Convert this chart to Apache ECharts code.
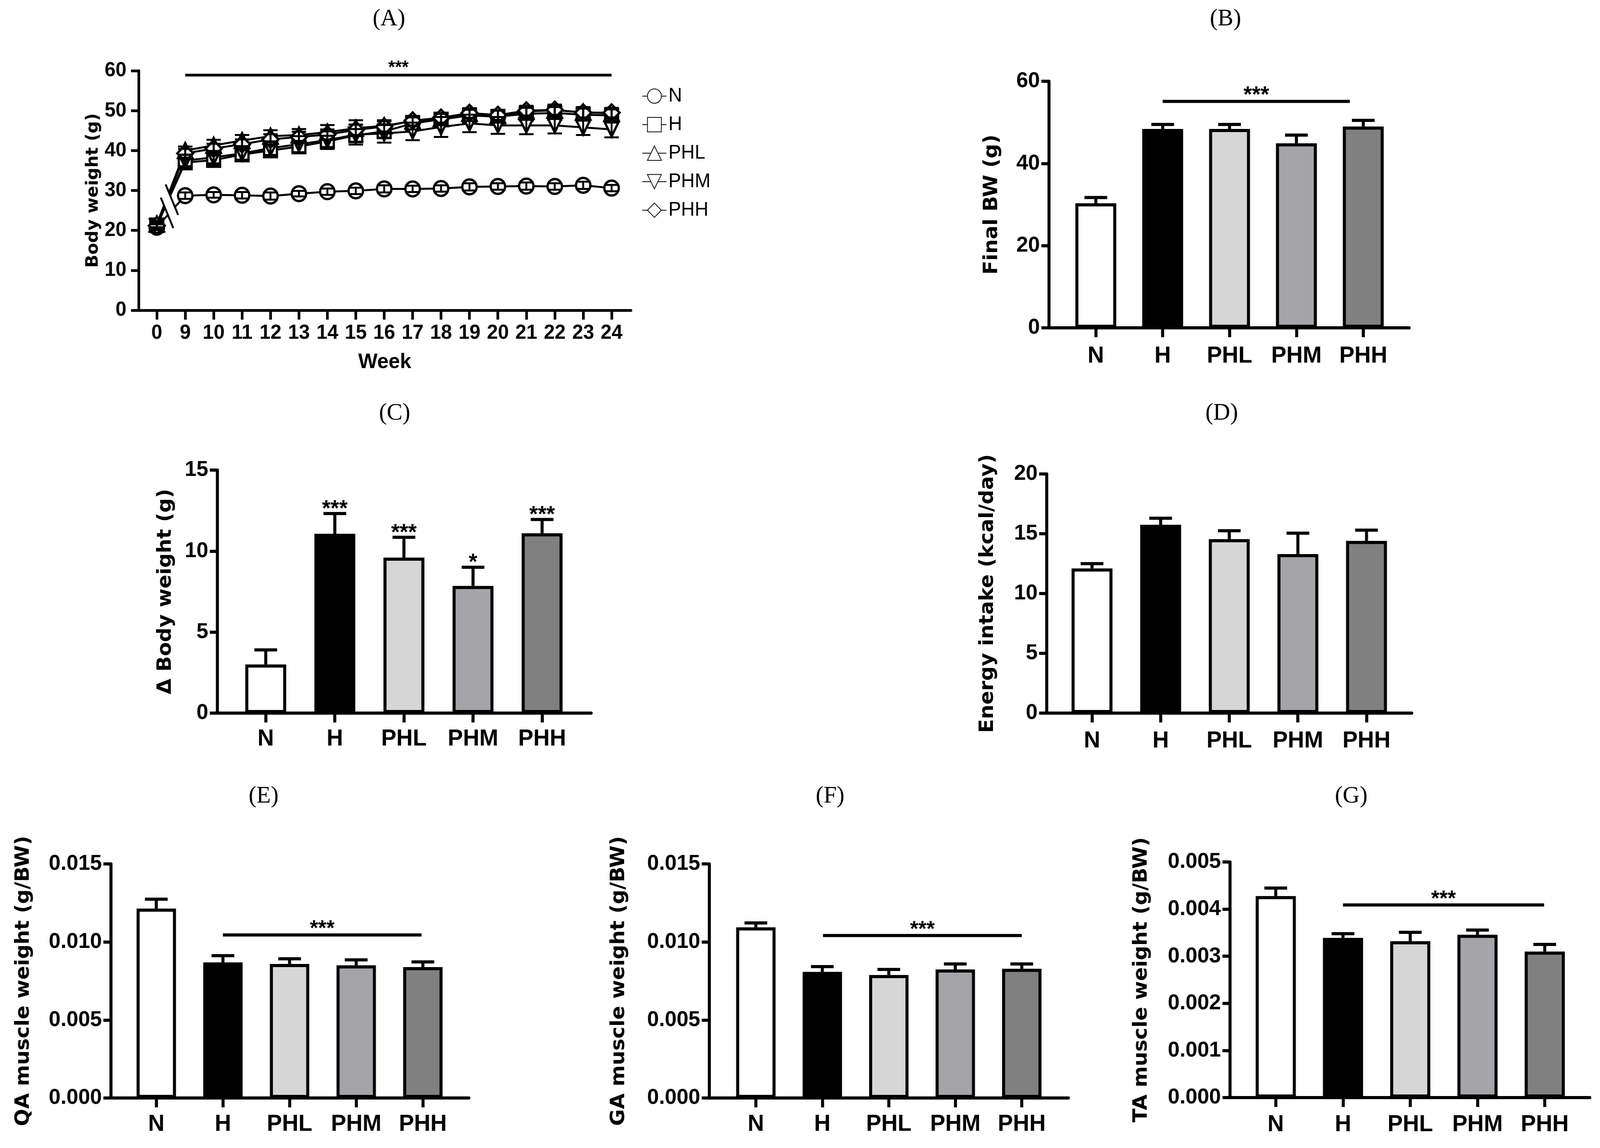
<!DOCTYPE html>
<html><head><meta charset="utf-8">
<script src="https://cdn.jsdelivr.net/npm/echarts@6/dist/echarts.min.js"></script>
<style>html,body{margin:0;padding:0;background:#fff;overflow:hidden}#c{width:4225px;height:2938px;transform-origin:0 0}</style>
</head><body><div id="c"></div><script>
// ---------- data ----------
const weeks = ['0','9','10','11','12','13','14','15','16','17','18','19','20','21','22','23','24'];
const groups = ['N','H','PHL','PHM','PHH'];

const bwN   = [20.8, 28.7, 28.9, 28.8, 28.6, 29.2, 29.7, 29.9, 30.4, 30.4, 30.5, 30.9, 31.0, 31.1, 31.0, 31.3, 30.6];
const bwH   = [21.3, 37.0, 37.6, 39.0, 40.0, 41.0, 42.3, 43.8, 44.8, 46.8, 47.8, 48.8, 48.5, 49.2, 49.4, 49.0, 48.8];
const bwPHL = [21.6, 40.0, 41.3, 42.5, 43.6, 43.9, 44.6, 45.6, 46.2, 47.4, 48.0, 49.3, 48.8, 49.8, 50.1, 49.6, 49.3];
const bwPHM = [21.0, 37.5, 38.3, 39.3, 40.6, 41.6, 42.6, 44.0, 44.3, 44.8, 45.9, 46.8, 46.3, 46.3, 46.3, 45.8, 45.3];
const bwPHH = [21.2, 39.3, 40.5, 41.6, 42.8, 43.4, 44.0, 45.2, 46.0, 47.5, 48.2, 49.4, 48.9, 50.0, 50.2, 49.5, 49.5];

const errN   = [0.7, 0.8, 0.7, 0.8, 0.9, 0.7, 0.8, 0.8, 0.9, 0.8, 0.8, 0.9, 0.8, 0.9, 0.8, 0.9, 0.8];
const errH   = [0.8, 1.2, 1.2, 1.3, 1.3, 1.4, 1.4, 1.6, 1.6, 1.5, 1.4, 1.4, 1.5, 1.5, 1.5, 1.5, 1.5];
const errPHL = [0.8, 1.0, 1.4, 1.4, 1.5, 1.5, 1.8, 2.0, 1.4, 1.3, 1.3, 1.3, 1.3, 1.4, 1.4, 1.3, 1.3];
const errPHM = [0.7, 1.4, 1.5, 1.6, 1.7, 2.0, 2.2, 2.5, 2.3, 2.2, 2.5, 2.2, 2.1, 2.2, 2.0, 1.9, 2.0];
const errPHH = [0.8, 1.1, 1.2, 1.2, 1.3, 1.3, 1.3, 1.3, 1.3, 1.2, 1.2, 1.2, 1.2, 1.2, 1.2, 1.2, 1.2];

const breakMark = [0.36, 24.4, 0.53, 27.7];

const finalBW    = [30.3, 48.4, 48.4, 44.9, 49.0];
const finalBWErr = [1.4, 1.1, 1.1, 2.0, 1.5];
const deltaBW    = [3.0, 11.07, 9.6, 7.85, 11.1];
const deltaBWErr = [0.9, 1.25, 1.25, 1.15, 0.85];
const starsC     = ['', '***', '***', '*', '***'];
const energy     = [12.1, 15.75, 14.55, 13.3, 14.4];
const energyErr  = [0.4, 0.55, 0.7, 1.75, 0.9];
const qaW        = [0.01214, 0.00869, 0.00859, 0.00850, 0.00839];
const qaErr      = [0.00060, 0.00043, 0.00033, 0.00035, 0.00033];
const gaW        = [0.01094, 0.00808, 0.00788, 0.00824, 0.00828];
const gaErr      = [0.00028, 0.00034, 0.00036, 0.00035, 0.00031];
const taW        = [0.004276, 0.003389, 0.003318, 0.003455, 0.003100];
const taErr      = [0.00017, 0.00009, 0.00019, 0.00010, 0.00015];

const sigA = [1, 16, 58.9];
const sigB = [1, 3.8, 55.1];
const sigE = [1, 3.98, 0.01045];
const sigF = [1.01, 4.0, 0.01041];
const sigG = [1, 3.99, 0.004088];

const barColors = ['#ffffff', '#000000', '#d6d6d6', '#a5a4a9', '#808080'];

// ---------- helpers ----------
const TF = 'Liberation Sans';
const NF = 'DejaVu Sans';
const idx5 = [0,1,2,3,4];

function xBar(gi, min, max, margin){
  return {type:'value', gridIndex:gi, min:min, max:max, splitLine:{show:false},
    axisLine:{show:true, onZero:false, lineStyle:{color:'#000', width:8}},
    axisTick:{show:true, customValues:idx5, length:24, lineStyle:{color:'#000', width:8}},
    axisLabel:{customValues:idx5, formatter:v=>groups[Math.round(v)], margin:margin,
      fontFamily:TF, fontWeight:'bold', fontSize:60, lineHeight:60, color:'#000'}};
}
function yBar(gi, max, interval, name, nameGap, dec){
  return {type:'value', gridIndex:gi, min:0, max:max, interval:interval, splitLine:{show:false},
    name:name, nameLocation:'middle', nameRotate:90, nameGap:nameGap,
    nameTextStyle:{fontFamily:NF, fontWeight:'bold', fontSize:52, lineHeight:52, color:'#000'},
    axisLine:{show:true, onZero:false, lineStyle:{color:'#000', width:8}},
    axisTick:{show:true, length:20, lineStyle:{color:'#000', width:8}},
    axisLabel:{margin:24, formatter:v=>v.toFixed(dec), fontFamily:TF, fontWeight:'bold', fontSize:56, color:'#000'}};
}
function barSeries(gi, vals, bw){
  return {type:'bar', xAxisIndex:gi, yAxisIndex:gi, barWidth:bw, z:2, silent:true,
    data: vals.map((v,i)=>({value:[i,v], itemStyle:{color:barColors[i], borderColor:'#000', borderWidth:8}}))};
}
function errUp(gi, vals, errs){
  return {type:'custom', xAxisIndex:gi, yAxisIndex:gi, z:1, silent:true,
    data: vals.map((v,i)=>[i, v, v+errs[i]]), encode:{x:0, y:[1,2]},
    renderItem:(p,api)=>{
      const a = api.coord([api.value(0), api.value(1)]);
      const b = api.coord([api.value(0), api.value(2)]);
      return {type:'group', children:[
        {type:'line', shape:{x1:a[0], y1:a[1], x2:b[0], y2:b[1]}, style:{stroke:'#000', lineWidth:8}},
        {type:'line', shape:{x1:b[0]-30, y1:b[1], x2:b[0]+30, y2:b[1]}, style:{stroke:'#000', lineWidth:8}}]};
    }};
}
function sigSeries(gi, sig, fs, lw){
  return {type:'custom', xAxisIndex:gi, yAxisIndex:gi, z:5, silent:true,
    data:[sig], encode:{x:[0,1], y:2},
    renderItem:(p,api)=>{
      const a = api.coord([api.value(0), api.value(2)]);
      const b = api.coord([api.value(1), api.value(2)]);
      return {type:'group', children:[
        {type:'line', shape:{x1:a[0], y1:a[1], x2:b[0], y2:a[1]}, style:{stroke:'#000', lineWidth:lw}},
        {type:'text', x:(a[0]+b[0])/2, y:a[1]-30+0.27*fs,
          style:{text:'***', fill:'#000', font:'bold '+fs+'px "Liberation Sans"', textAlign:'center', textVerticalAlign:'middle'}}]};
    }};
}

// ---------- panel A ----------
const lineData = [bwN, bwH, bwPHL, bwPHM, bwPHH];
const lineErr  = [errN, errH, errPHL, errPHM, errPHH];
const lineSym  = ['circle', 'rect', 'triangle', 'path://M0,0L20,0L10,20Z', 'diamond'];
const lineSize = [38, 34, 38, 36, 42];

const series = [];
groups.forEach((g, k) => {
  series.push({type:'line', name:g, xAxisIndex:0, yAxisIndex:0, z:3, silent:true,
    data: lineData[k].map((v,i)=>[i,v]),
    symbol: lineSym[k], symbolSize: lineSize[k], symbolKeepAspect:true, showAllSymbol:true,
    lineStyle:{color:'#000', width:5},
    itemStyle:{color:'#fff', borderColor:'#000', borderWidth:6}});
});
groups.forEach((g, k) => {
  series.push({type:'custom', xAxisIndex:0, yAxisIndex:0, z:4, silent:true,
    data: lineData[k].map((v,i)=>[i, v-lineErr[k][i], v+lineErr[k][i]]), encode:{x:0, y:[1,2]},
    renderItem:(p,api)=>{
      const a = api.coord([api.value(0), api.value(1)]);
      const b = api.coord([api.value(0), api.value(2)]);
      return {type:'group', children:[
        {type:'line', shape:{x1:a[0], y1:a[1], x2:b[0], y2:b[1]}, style:{stroke:'#000', lineWidth:5}},
        {type:'line', shape:{x1:a[0]-19, y1:a[1], x2:a[0]+19, y2:a[1]}, style:{stroke:'#000', lineWidth:5}},
        {type:'line', shape:{x1:b[0]-19, y1:b[1], x2:b[0]+19, y2:b[1]}, style:{stroke:'#000', lineWidth:5}}]};
    }});
});
// axis break marks
series.push({type:'custom', xAxisIndex:0, yAxisIndex:0, z:6, silent:true,
  data:[breakMark], encode:{x:[0,2], y:[1,3]},
  renderItem:(p,api)=>{
    const c1 = api.coord([api.value(0), api.value(1)]);
    const c2 = api.coord([api.value(2), api.value(3)]);
    const hx = 16.5, hy = 39;
    return {type:'group', children:[
      {type:'polygon', shape:{points:[[c1[0]-hx,c1[1]-hy],[c1[0]+hx,c1[1]+hy],[c2[0]+hx,c2[1]+hy],[c2[0]-hx,c2[1]-hy]]}, style:{fill:'#fff'}},
      {type:'line', shape:{x1:c1[0]-hx, y1:c1[1]-hy, x2:c1[0]+hx, y2:c1[1]+hy}, style:{stroke:'#000', lineWidth:5}},
      {type:'line', shape:{x1:c2[0]-hx, y1:c2[1]-hy, x2:c2[0]+hx, y2:c2[1]+hy}, style:{stroke:'#000', lineWidth:5}}]};
  }});
series.push(sigSeries(0, sigA, 46, 7));

// ---------- bar panels ----------
series.push(errUp(1, finalBW, finalBWErr), barSeries(1, finalBW, 108), sigSeries(1, sigB, 58, 8));
series.push(errUp(2, deltaBW, deltaBWErr), barSeries(2, deltaBW, 108));
series.push({type:'custom', xAxisIndex:2, yAxisIndex:2, z:5, silent:true,
  data: deltaBW.map((v,i)=>[i, v+deltaBWErr[i]]), encode:{x:0, y:1},
  renderItem:(p,api)=>{
    const a = api.coord([api.value(0), api.value(1)]);
    return {type:'text', x:a[0], y:a[1]-26+0.27*58,
      style:{text:starsC[p.dataIndex], fill:'#000', font:'bold 58px "Liberation Sans"', textAlign:'center', textVerticalAlign:'middle'}};
  }});
series.push(errUp(3, energy, energyErr), barSeries(3, energy, 108));
series.push(errUp(4, qaW, qaErr), barSeries(4, qaW, 104), sigSeries(4, sigE, 56, 8));
series.push(errUp(5, gaW, gaErr), barSeries(5, gaW, 104), sigSeries(5, sigF, 56, 8));
series.push(errUp(6, taW, taErr), barSeries(6, taW, 106), sigSeries(6, sigG, 56, 8));

// ---------- titles ----------
const titles = [['(A)',1027,49],['(B)',3236,49],['(C)',1042,1058],['(D)',3226,1058],['(E)',696,2038],['(F)',2192,2038],['(G)',3568,2038]];

const G = (l,t,w,h)=>({left:l, top:t, width:w, height:h, containLabel:false, outerBoundsMode:'none'});

const option = {
  animation:false,
  backgroundColor:'#fff',
  grid:[
    G(366, 181, 1300, 613),
    G(2770, 208, 951, 631),
    G(574, 1203, 987, 622),
    G(2764, 1213, 964, 612),
    G(293, 2211, 945, 599),
    G(1873, 2211, 948, 599),
    G(3248, 2206, 950, 603)
  ],
  xAxis:[
    {type:'value', gridIndex:0, min:-0.64, max:16.68, splitLine:{show:false},
      name:'Week', nameLocation:'middle', nameGap:106,
      nameTextStyle:{fontFamily:TF, fontWeight:'bold', fontSize:54, lineHeight:54, color:'#000'},
      axisLine:{show:true, onZero:false, lineStyle:{color:'#000', width:7}},
      axisTick:{show:true, customValues:weeks.map((w,i)=>i), length:24, lineStyle:{color:'#000', width:7}},
      axisLabel:{customValues:weeks.map((w,i)=>i), formatter:v=>weeks[Math.round(v)], margin:33,
        fontFamily:TF, fontWeight:'bold', fontSize:52, lineHeight:52, color:'#000'}},
    xBar(1, -0.70, 4.686, 42),
    xBar(2, -0.70, 4.71, 36),
    xBar(3, -0.66, 4.66, 41),
    xBar(4, -0.68, 4.69, 37),
    xBar(5, -0.70, 4.70, 37),
    xBar(6, -0.68, 4.67, 39)
  ],
  yAxis:[
    {type:'value', gridIndex:0, min:0, max:60, interval:10, splitLine:{show:false},
      name:'Body weight (g)', nameLocation:'middle', nameRotate:90, nameGap:97,
      nameTextStyle:{fontFamily:NF, fontWeight:'bold', fontSize:44, lineHeight:44, color:'#000'},
      axisLine:{show:true, onZero:false, lineStyle:{color:'#000', width:7}},
      axisTick:{show:true, length:20, lineStyle:{color:'#000', width:7}},
      axisLabel:{margin:32, fontFamily:TF, fontWeight:'bold', fontSize:52, color:'#000'}},
    yBar(1, 60, 20, 'Final BW (g)', 125, 0),
    yBar(2, 15, 5, 'Δ Body weight (g)', 111, 0),
    yBar(3, 20, 5, 'Energy intake (kcal/day)', 130, 0),
    yBar(4, 0.015, 0.005, 'QA muscle weight (g/BW)', 205, 3),
    yBar(5, 0.015, 0.005, 'GA muscle weight (g/BW)', 213, 3),
    yBar(6, 0.005, 0.001, 'TA muscle weight (g/BW)', 208, 3)
  ],
  legend:{
    orient:'vertical', left:1690, top:216, itemWidth:64, itemHeight:46, itemGap:23,
    data:groups, selectedMode:false,
    textStyle:{fontFamily:TF, fontSize:50, color:'#000'}
  },
  graphic: titles.map(t=>({type:'text', x:t[1], y:t[2], silent:true,
    style:{text:t[0], fill:'#000', font:'62px "Liberation Serif"', textAlign:'center', textVerticalAlign:'middle'}})),
  series: series
};

// fit the 4225x2938 layout into the actual viewport
const dom = document.getElementById('c');
const kx = window.innerWidth / 4225, ky = window.innerHeight / 2938;
if (kx > 0 && ky > 0 && (kx < 0.999 || ky < 0.999)) dom.style.transform = 'scale(' + Math.min(kx,1) + ',' + Math.min(ky,1) + ')';
const chart = echarts.init(dom, null, {renderer:'canvas', width:4225, height:2938});
chart.setOption(option);
</script></body></html>
